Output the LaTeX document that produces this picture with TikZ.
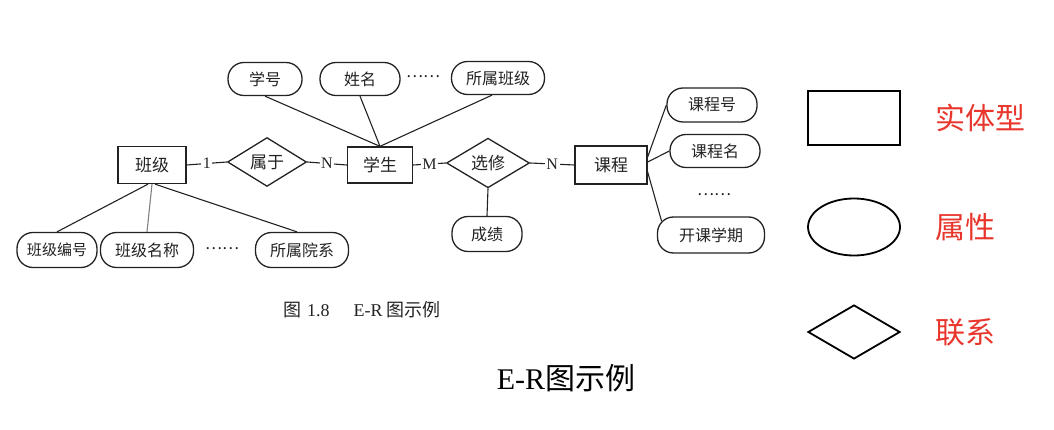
\documentclass[tikz,border=0pt]{standalone}
\usepackage{fontspec}
\setmainfont{Liberation Serif}
\newfontfamily\cjk{Noto Sans CJK SC}
\usetikzlibrary{shapes.geometric}
\definecolor{legred}{HTML}{E8362C}
\definecolor{ink}{HTML}{222222}
\begin{document}
\begin{tikzpicture}[x=1pt,y=-1pt,
 every node/.style={inner sep=0pt},
 ent/.style={draw=ink, line width=1.3pt, minimum height=36pt, text=ink, font=\cjk\fontsize{17}{20}\selectfont},
 attr/.style={draw=ink, line width=1.3pt, rounded corners=16pt, minimum height=33pt, text=ink, font=\cjk\fontsize{16}{20}\selectfont},
 rel/.style={draw=ink, diamond, line width=1.3pt, minimum width=80pt, minimum height=38pt, text=ink, font=\cjk\fontsize{17}{20}\selectfont},
 link/.style={draw=ink, line width=1.1pt},
 card/.style={fill=white, inner sep=1.5pt, text=ink, font=\fontsize{16}{18}\selectfont},
 dots/.style={text=ink, font=\cjk\fontsize{16}{20}\selectfont},
 legtxt/.style={anchor=west, text=legred, font=\cjk\fontsize{30}{34}\selectfont},
 ]
\useasboundingbox (0,0) rectangle (1054,430);
% attributes of 学生
\node[attr, minimum width=74pt] (xh) at (265,79) {学号};
\node[attr, minimum width=80pt] (xm) at (360,79) {姓名};
\node[dots] (d1) at (423,77) {……};
\node[attr, minimum width=93pt] (ssbj) at (498,78) {所属班级};
% entities and relations
\node[ent, minimum width=68pt, minimum height=37pt] (bj) at (152,165) {班级};
\node[rel, minimum width=79pt] (sy) at (267,162) {属于};
\node[ent, minimum width=65pt] (xs) at (380,165) {学生};
\node[rel, minimum width=83pt, minimum height=40pt] (xx) at (488,163) {选修};
\node[ent, minimum width=72pt, minimum height=38pt] (kc) at (611,165) {课程};
\node[attr, minimum width=70pt, minimum height=35pt] (cj) at (487,234) {成绩};
% attributes of 课程
\node[attr, minimum width=90pt, minimum height=34pt] (kch) at (712,105) {课程号};
\node[attr, minimum width=90pt] (kcm) at (715,151) {课程名};
\node[dots] (d2) at (714,195) {……};
\node[attr, minimum width=107pt, minimum height=36pt] (kkxq) at (711,235) {开课学期};
% attributes of 班级
\node[attr, minimum width=80pt, minimum height=35pt, font=\cjk\fontsize{15}{18}\selectfont] (bjbh) at (57,250) {班级编号};
\node[attr, minimum width=93pt, minimum height=35pt] (bjmc) at (147,250) {班级名称};
\node[dots] (d3) at (222,249) {……};
\node[attr, minimum width=93pt, minimum height=35pt] (ssyx) at (302,250) {所属院系};
% connectors
\draw[link] (xh.south) -- (xs.north);
\draw[link] (xm.south) -- (xs.north);
\draw[link] ([xshift=-6pt]ssbj.south) -- (xs.north);
\draw[link] (bj.east) -- node[card]{1} (sy.west);
\draw[link] (sy.east) -- node[card]{N} (xs.west);
\draw[link] (xs.east) -- node[card]{M} (xx.west);
\draw[link] (xx.east) -- node[card]{N} (kc.west);
\draw[link] (xx.south) -- (cj.north);
\draw[link] ([yshift=8pt]kc.east) -- (kch.west);
\draw[link] ([yshift=3pt]kc.east) -- (kcm.west);
\draw[link] ([yshift=-7pt]kc.east) -- ([xshift=4.7pt,yshift=-4.7pt]kkxq.north west);
\draw[link] ([xshift=-4pt]bj.south) -- (bjbh.north);
\draw[link, draw=gray] (bj.south) -- (bjmc.north);
\draw[link] ([xshift=3pt]bj.south) -- ([xshift=-5pt]ssyx.north);
% captions
\node[anchor=west, text=ink, font=\fontsize{18}{20}\selectfont] (cap) at (283,310) {{\cjk 图}\hspace{6pt}1.8\hspace{24pt}E-R\hspace{4pt}{\cjk 图示例}};
\node[font=\fontsize{30}{34}\selectfont] (title) at (566,378) {E-R{\cjk 图示例}};
% legend
\node[draw, line width=2pt, minimum width=92pt, minimum height=54pt] (lrect) at (854,118) {};
\node[draw, ellipse, line width=1.8pt, minimum width=92pt, minimum height=57pt] (lell) at (854,227) {};
\node[draw, diamond, line width=1.8pt, minimum width=92pt, minimum height=54pt] (ldia) at (854,332) {};
\node[legtxt] (t1) at (935,118) {实体型};
\node[legtxt] (t2) at (935,227) {属性};
\node[legtxt] (t3) at (935,332) {联系};
\end{tikzpicture}
\end{document}
